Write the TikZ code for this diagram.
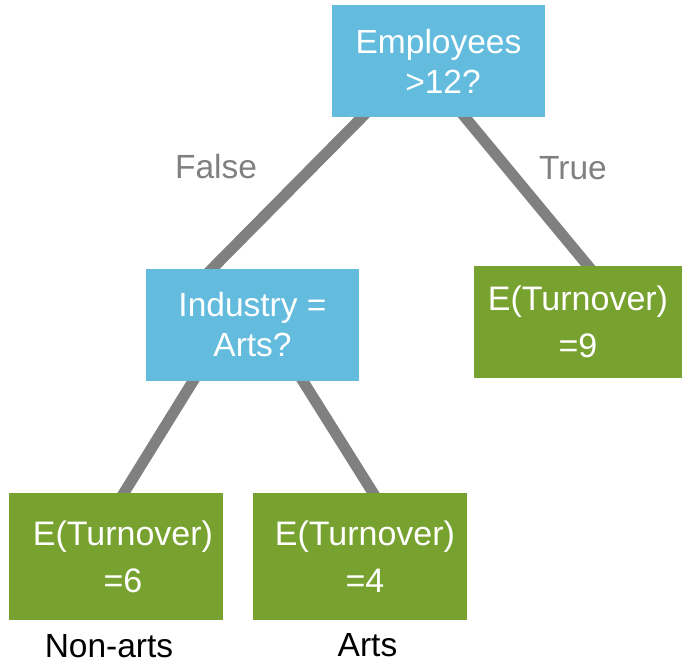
\documentclass[tikz,border=0pt]{standalone}
\usepackage{fontspec}
\setmainfont{Liberation Sans}
\usetikzlibrary{backgrounds}
\definecolor{splitblue}{RGB}{99,188,221}
\definecolor{leafgreen}{RGB}{120,162,47}
\definecolor{edgegray}{RGB}{128,128,128}

\begin{document}
\begin{tikzpicture}[x=1pt,y=-1pt,
    split node/.style={fill=splitblue,text=white,minimum width=213pt,minimum height=112pt,inner sep=0pt,align=center,font=\fontsize{33.5}{40}\selectfont},
    leaf node/.style={fill=leafgreen,text=white,minimum width=214pt,minimum height=127pt,inner sep=0pt,align=center,font=\fontsize{34}{47}\selectfont},
    branch/.style={draw=edgegray,line width=11pt,shorten <=-10pt,shorten >=-10pt},
    side label/.style={text=edgegray,anchor=base,inner sep=0pt,font=\fontsize{33.5}{40}\selectfont},
    leaf label/.style={anchor=base,inner sep=0pt,font=\fontsize{33.5}{40}\selectfont}]

  \useasboundingbox (0,0) rectangle (682,664);

  % splits
  \node[split node] (emp) at (438.5,61) {Employees\\\hspace*{9pt}>12?};
  \node[split node] (ind) at (252.5,325) {Industry =\\Arts?};

  % leaves
  \node[leaf node,minimum width=208pt,minimum height=112pt] (t9) at (578,322) {E(Turnover)\\=9};
  \node[leaf node] (t6) at (116,556.5) {\hspace*{14pt}E(Turnover)\\\hspace*{14pt}=6};
  \node[leaf node] (t4) at (360,556.5) {\hspace*{10pt}E(Turnover)\\\hspace*{10pt}=4};

  \node[side label] (false) at (216,178) {False};
  \node[side label] (true) at (573,179) {True};
  \node[leaf label] (nonarts) at (109,657) {Non-arts};
  \node[leaf label] (arts) at (367.5,656) {Arts};

  \begin{scope}[on background layer]
    \draw[branch] ([xshift=-76.5]emp.south) -- ([xshift=-40.5]ind.north);
    \draw[branch] ([xshift=26.5]emp.south) -- ([xshift=10]t9.north);
    \draw[branch] ([xshift=-59.5]ind.south) -- ([xshift=8]t6.north);
    \draw[branch] ([xshift=50.5]ind.south) -- ([xshift=13]t4.north);
  \end{scope}
\end{tikzpicture}
\end{document}
